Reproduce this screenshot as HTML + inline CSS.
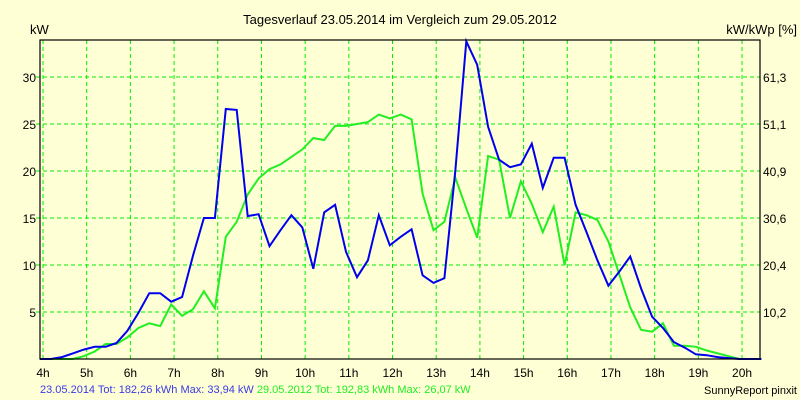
<!DOCTYPE html>
<html><head><meta charset="utf-8"><style>
body{margin:0;background:#ffffd6;}
svg{display:block;font-family:"Liberation Sans",sans-serif;}
</style></head><body>
<svg id="chart" width="800" height="400" viewBox="0 0 800 400">
<rect x="0" y="0" width="800" height="400" fill="#ffffd6"/>
<text x="400" y="24" text-anchor="middle" font-size="13" fill="#000">Tagesverlauf 23.05.2014 im Vergleich zum 29.05.2012</text>
<text x="30" y="34" font-size="13" fill="#000">kW</text>
<text x="797" y="34" text-anchor="end" font-size="13" fill="#000">kW/kWp [%]</text>
<g id="grid"></g>
<g id="series"></g>
<rect x="40" y="40" width="720" height="319" fill="none" stroke="#000" stroke-width="1.2"/>
<g id="labels"></g>
<text x="40" y="393" font-size="11" fill="#3a3ae6">23.05.2014 Tot: 182,26 kWh Max: 33,94 kW <tspan fill="#22ee22">29.05.2012 Tot: 192,83 kWh Max: 26,07 kW</tspan></text>
<text x="797" y="394" text-anchor="end" font-size="11" fill="#000">SunnyReport pinxit</text>
</svg>
<script>
const hourTicks = [4,5,6,7,8,9,10,11,12,13,14,15,16,17,18,19,20];
const kwTicks = [5,10,15,20,25,30];
const pctTicks = ["10,2","20,4","30,6","40,9","51,1","61,3"];
const seriesA = [0,0,0.2,0.6,1.0,1.3,1.3,1.7,3.0,4.9,7.0,7.0,6.1,6.6,11,15.0,15.0,26.6,26.5,15.2,15.4,12.0,13.7,15.3,14.0,9.6,15.6,16.4,11.4,8.7,10.5,15.3,12.1,13.0,13.8,8.9,8.1,8.6,20,33.8,31.3,24.7,21.2,20.4,20.7,22.9,18.2,21.4,21.4,16.4,13.5,10.5,7.8,9.3,10.9,7.5,4.5,3.3,1.8,1.2,0.5,0.4,0.2,0.1,0,0,0];
const seriesB = [0,0,0,0,0.3,0.8,1.6,1.6,2.3,3.3,3.8,3.5,5.8,4.6,5.3,7.2,5.4,13.0,14.6,17.5,19.2,20.2,20.7,21.5,22.3,23.5,23.3,24.8,24.8,25.0,25.2,26.0,25.6,26.0,25.5,17.6,13.7,14.6,19.3,16,12.9,21.6,21.2,15.0,18.9,16.5,13.5,16.2,10.0,15.6,15.3,14.8,12.5,9,5.5,3.1,2.9,3.8,1.4,1.4,1.3,0.9,0.6,0.3,0,0,0];
const ns = "http://www.w3.org/2000/svg";
const xHour = h => 43 + (h - 4) * 43.69;
const xIdx = i => 40 + i * 10.93;
const yKw = v => 359 - v * 9.4;
const grid = document.getElementById('grid');
const labels = document.getElementById('labels');
const series = document.getElementById('series');
hourTicks.forEach(h => {
  const l = document.createElementNS(ns, 'line');
  l.setAttribute('x1', xHour(h)); l.setAttribute('x2', xHour(h));
  l.setAttribute('y1', 40); l.setAttribute('y2', 359);
  l.setAttribute('stroke', '#00ee00'); l.setAttribute('stroke-dasharray', '4,3');
  
  
  grid.appendChild(l);
  const t = document.createElementNS(ns, 'text');
  t.setAttribute('x', xHour(h)); t.setAttribute('y', 377);
  t.setAttribute('text-anchor', 'middle'); t.setAttribute('font-size', '12');
  t.textContent = h + 'h';
  
  
  labels.appendChild(t);
});
kwTicks.forEach((v, k) => {
  const l = document.createElementNS(ns, 'line');
  l.setAttribute('x1', 36); l.setAttribute('x2', 760);
  l.setAttribute('y1', yKw(v)); l.setAttribute('y2', yKw(v));
  l.setAttribute('stroke', '#00ee00'); l.setAttribute('stroke-dasharray', '4,3');
  
  
  grid.appendChild(l);
  const t = document.createElementNS(ns, 'text');
  t.setAttribute('x', 36); t.setAttribute('y', yKw(v) + 5);
  t.setAttribute('text-anchor', 'end'); t.setAttribute('font-size', '12');
  t.textContent = v;
  
  
  labels.appendChild(t);
  const r = document.createElementNS(ns, 'text');
  r.setAttribute('x', 763); r.setAttribute('y', yKw(v) + 5);
  r.setAttribute('font-size', '12');
  r.textContent = pctTicks[k];
  
  
  labels.appendChild(r);
});
function drawLine(arr, color, name) {
  const p = document.createElementNS(ns, 'polyline');
  p.setAttribute('points', arr.map((v, i) => xIdx(i).toFixed(1) + ',' + yKw(v).toFixed(1)).join(' '));
  p.setAttribute('fill', 'none'); p.setAttribute('stroke', color); p.setAttribute('stroke-width', '2');
  
  
  series.appendChild(p);
}
drawLine(seriesB, '#22ee22', 'series-2012-line');
drawLine(seriesA, '#0000ee', 'series-2014-line');
</script>
</body></html>
